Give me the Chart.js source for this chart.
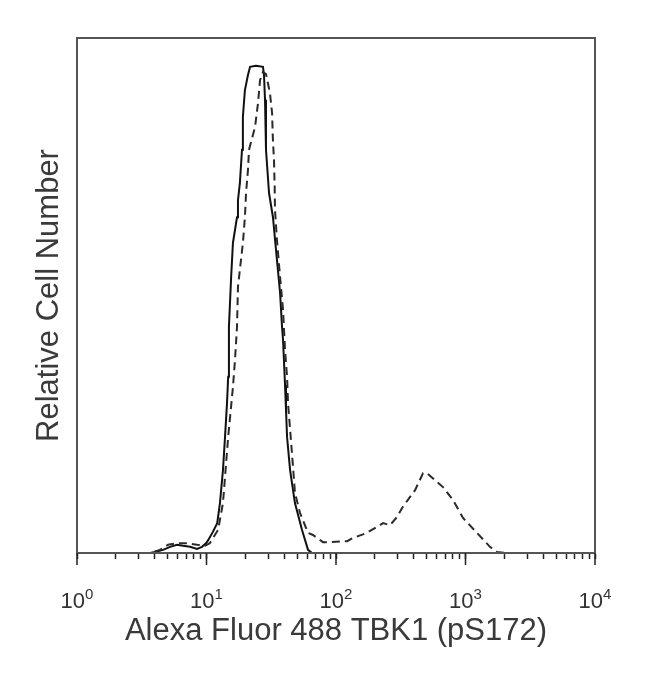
<!DOCTYPE html>
<html><head><meta charset="utf-8">
<script src="https://cdn.jsdelivr.net/npm/chart.js@4/dist/chart.umd.min.js"></script>
<style>html,body{margin:0;padding:0;background:#fff}</style>
</head><body>
<canvas id="c" width="650" height="678"></canvas>
<script>
// Fluorescence intensity (x) and relative cell number (% of full scale) for each histogram
const solidX = [1, 3.66, 4.0, 4.62, 5.23, 5.92, 6.59, 7.46, 8.45, 9.23, 9.91, 10.3, 11.2, 12.1, 12.7, 13.4, 13.9, 14.4, 14.7, 14.9, 15.5, 16.0, 17.2, 17.5, 18.1, 18.8, 19.1, 19.8, 20.9, 21.7, 24.1, 27.3, 27.8, 28.3, 28.8, 30.4, 32.6, 35.0, 37.0, 38.3, 39.0, 40.4, 41.1, 41.9, 44.2, 48.2, 54.6, 60.8, 65.3, 10000];
const solidY = [0, 0, 0.2, 0.6, 1.2, 1.6, 1.4, 1.2, 0.8, 1.2, 1.9, 2.5, 4.1, 5.8, 9.7, 16.1, 22.5, 29.1, 34.2, 43.9, 53.6, 60.2, 65.2, 68.5, 71.8, 78.3, 84.7, 89.9, 92.8, 94.4, 94.6, 94.4, 92.8, 88.0, 78.3, 69.9, 65.2, 56.9, 50.5, 43.9, 41.4, 32.6, 27.8, 22.5, 16.1, 9.7, 4.5, 0.6, 0, 0];
const dashedX = [1, 3.66, 4.37, 5.04, 5.92, 7.07, 8.45, 9.74, 10.6, 11.0, 11.6, 12.3, 13.4, 14.7, 16.0, 16.6, 17.2, 17.5, 19.1, 19.8, 20.2, 20.9, 21.3, 23.7, 25.0, 25.9, 27.3, 28.8, 30.9, 32.1, 32.5, 33.2, 33.6, 33.8, 35.0, 37.0, 39.0, 40.4, 41.9, 42.6, 45.7, 48.2, 52.7, 60.8, 66.4, 79.4, 89.9, 122, 135, 173, 231, 261, 296, 323, 373, 408, 470, 505, 603, 670, 800, 957, 1227, 1545, 1750, 2018, 10000];
const dashedY = [0, 0, 0.6, 1.6, 1.9, 1.9, 1.6, 1.4, 1.9, 2.5, 3.5, 4.5, 9.7, 22.5, 32.2, 37.5, 43.9, 51.7, 60.2, 65.2, 69.9, 74.4, 78.3, 82.7, 87.4, 91.8, 93.4, 93.0, 89.3, 85.4, 80.8, 76.3, 71.1, 66.6, 60.8, 53.6, 47.2, 39.4, 34.2, 29.1, 19.4, 11.7, 7.8, 3.9, 3.5, 2.1, 2.1, 2.3, 2.9, 3.9, 5.8, 5.4, 7.0, 8.7, 10.9, 12.2, 15.5, 15.5, 13.8, 12.8, 10.3, 6.8, 3.9, 1.2, 0.2, 0, 0];
const majorTicks = [1, 10, 100, 1000, 10000];
const tickBase = '10';
const tickExponents = ['0', '1', '2', '3', '4'];
const minorTicks = [2,3,4,5,6,7,8,9, 20,30,40,50,60,70,80,90, 200,300,400,500,600,700,800,900, 2000,3000,4000,5000,6000,7000,8000,9000];
const xTitle = 'Alexa Fluor 488 TBK1 (pS172)';
const yTitle = 'Relative Cell Number';

const allTicks = majorTicks.concat(minorTicks).sort((a, b) => a - b);
const toPts = (xs, ys) => xs.map((v, i) => ({x: v, y: ys[i]}));
const FONT = "'Liberation Sans', Arial, sans-serif";

const framePlugin = {
  id: 'frame',
  afterDatasetsDraw(chart) {
    const {ctx, chartArea: a, scales: {x}} = chart;
    ctx.save();
    ctx.strokeStyle = '#555';
    ctx.lineWidth = 2;
    ctx.strokeRect(a.left, a.top, a.right - a.left, a.bottom - a.top);
    ctx.strokeStyle = '#222';
    ctx.lineWidth = 1.5;
    majorTicks.forEach((v, i) => {
      const px = x.getPixelForValue(v);
      ctx.beginPath();
      ctx.moveTo(px, a.bottom);
      ctx.lineTo(px, a.bottom + 12);
      ctx.stroke();
      // tick label: base with superscript exponent
      ctx.fillStyle = '#333';
      ctx.textBaseline = 'alphabetic';
      ctx.textAlign = 'left';
      ctx.font = '22px ' + FONT;
      const wb = ctx.measureText(tickBase).width;
      ctx.font = '15px ' + FONT;
      const we = ctx.measureText(tickExponents[i]).width;
      const x0 = px - (wb + we) / 2;
      ctx.font = '22px ' + FONT;
      ctx.fillText(tickBase, x0, 608);
      ctx.font = '15px ' + FONT;
      ctx.fillText(tickExponents[i], x0 + wb, 599);
    });
    ctx.restore();
  }
};

new Chart(document.getElementById('c'), {
  type: 'scatter',
  data: {
    datasets: [
      {data: toPts(dashedX, dashedY), showLine: true, borderColor: '#2a2a2a', borderWidth: 2, borderDash: [8, 5], pointRadius: 0, fill: false, tension: 0},
      {data: toPts(solidX, solidY), showLine: true, borderColor: '#111', borderWidth: 2, pointRadius: 0, fill: false, tension: 0}
    ]
  },
  options: {
    responsive: false,
    animation: false,
    devicePixelRatio: 1,
    layout: {padding: {top: 38, right: 55, left: 0, bottom: 0}},
    plugins: {legend: {display: false}, tooltip: {enabled: false}},
    scales: {
      x: {
        type: 'logarithmic', min: 1, max: 10000, position: 'bottom',
        afterBuildTicks: s => { s.ticks = allTicks.map(v => ({value: v, major: majorTicks.includes(v)})); },
        afterFit: s => { s.height = 125; },
        ticks: {
          autoSkip: false, maxRotation: 0, minRotation: 0, padding: 22, color: '#333',
          font: {family: FONT, size: 22},
          callback: () => ''
        },
        grid: {display: true, drawOnChartArea: false, drawTicks: true, tickLength: 6, tickColor: '#222', tickWidth: 1.5},
        border: {display: true, color: '#111', width: 2},
        title: {display: true, text: xTitle, color: '#3a3a3a', font: {family: FONT, size: 31}, padding: {top: 0, bottom: 28}}
      },
      y: {
        min: 0, max: 100,
        afterFit: s => { s.width = 77; },
        ticks: {display: false},
        grid: {display: false, drawTicks: false},
        border: {display: true, color: '#666', width: 2},
        title: {display: true, text: yTitle, color: '#3a3a3a', font: {family: FONT, size: 31}, padding: {top: 31, bottom: 0}}
      }
    }
  },
  plugins: [framePlugin]
});
</script>
</body></html>
